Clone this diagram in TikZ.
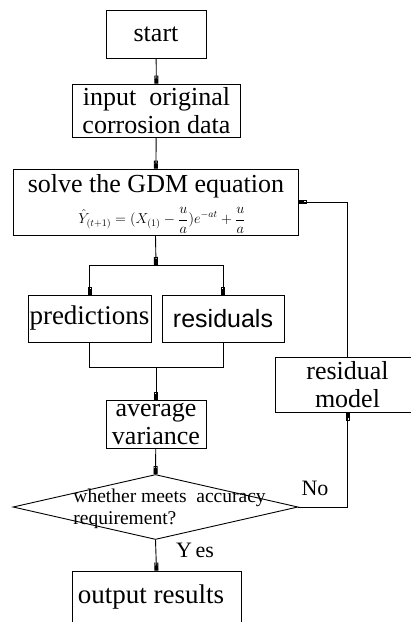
\documentclass[tikz,border=0pt]{standalone}
\usepackage{fontspec}
\setmainfont{Liberation Serif}
\newfontfamily\arialf{Liberation Sans}
\usetikzlibrary{arrows.meta,shapes.geometric}
\begin{document}
\begin{tikzpicture}[x=1pt,y=-1pt,line width=0.9pt,
  box/.style={draw,rectangle,inner sep=0pt},
  big/.style={font=\fontsize{26}{28}\selectfont,align=center,inner sep=0pt},
  mid/.style={font=\fontsize{22}{24}\selectfont,inner sep=0pt},
  small/.style={font=\fontsize{19.5}{21}\selectfont,inner sep=0pt,anchor=base west},
  arr/.style={-{Square[open,length=3pt,width=4pt]Square[length=5pt,width=4pt]}}]
\useasboundingbox (0,0) rectangle (411,622);
\clip (0,0) rectangle (411,622);
% boxes
\node[box,big,minimum width=100,minimum height=48] (start) at (156,34) {start};
\node[box,big,minimum width=168,minimum height=53] (input) at (156.5,110.5) {input\ \ original\\corrosion data};
\node[box,minimum width=285,minimum height=66] (solve) at (155.5,202) {};
\node[big,anchor=base] (solvet) at (156,192) {solve the GDM equation};
\node[inner sep=0pt,font=\fontsize{14.4}{16}\selectfont] (eq) at (162,220.5)
  {$\displaystyle\hat{Y}_{(t+1)} = (X_{(1)} - \frac{u}{a})e^{-at} + \frac{u}{a}$};
\node[box,minimum width=123,minimum height=47,inner sep=0pt,font=\fontsize{27}{28}\selectfont] (pred) at (89.5,318.5) {predictions};
\node[box,minimum width=122,minimum height=47,inner sep=0pt,font=\arialf\fontsize{25}{27}\selectfont] (resid) at (223,318.5) {residuals};
\node[box,big,minimum width=100,minimum height=48] (avg) at (156,424) {average\\variance};
\node[draw,diamond,inner sep=0pt,minimum width=285,minimum height=65] (dia) at (155.5,507) {};
\node[small] (diat1) at (73,502) {whether meets\ \ accuracy};
\node[small] (diat2) at (73,524) {requirement?};
\node[box,big,minimum width=145,minimum height=55] (model) at (347.5,384.5) {residual\\model};
\node[box,minimum width=169,minimum height=70] (out) at (156.5,606) {};
\node[anchor=base,inner sep=0pt,font=\fontsize{27}{28}\selectfont] (outt) at (151,603) {output results};
% labels
\node[mid,anchor=base] (no) at (315,495) {No};
\node[mid,anchor=base] (yes) at (195,557) {Y\,es};
% junctions
\coordinate (j1) at (156,265);
\coordinate (j2) at (156,367);
\coordinate (c1) at (347.5,507);
% connectors
\draw[arr] (start) -- (input);
\draw[arr] (input) -- (solve);
\draw[arr] (solve.south) -- (j1);
\draw[arr] (j1) -| (pred.north);
\draw[arr] (j1) -| (resid.north);
\draw (pred.south) |- (j2);
\draw (resid.south) |- (j2);
\draw[arr] (j2) -- (avg.north);
\draw[arr] (avg) -- (dia.north);
\draw[arr] (dia.south) -- (out.north);
\draw[arr] (dia.east) -- (c1) -- (model.south);
\draw[arr] (model.north) |- (solve.east);
\end{tikzpicture}
\end{document}
